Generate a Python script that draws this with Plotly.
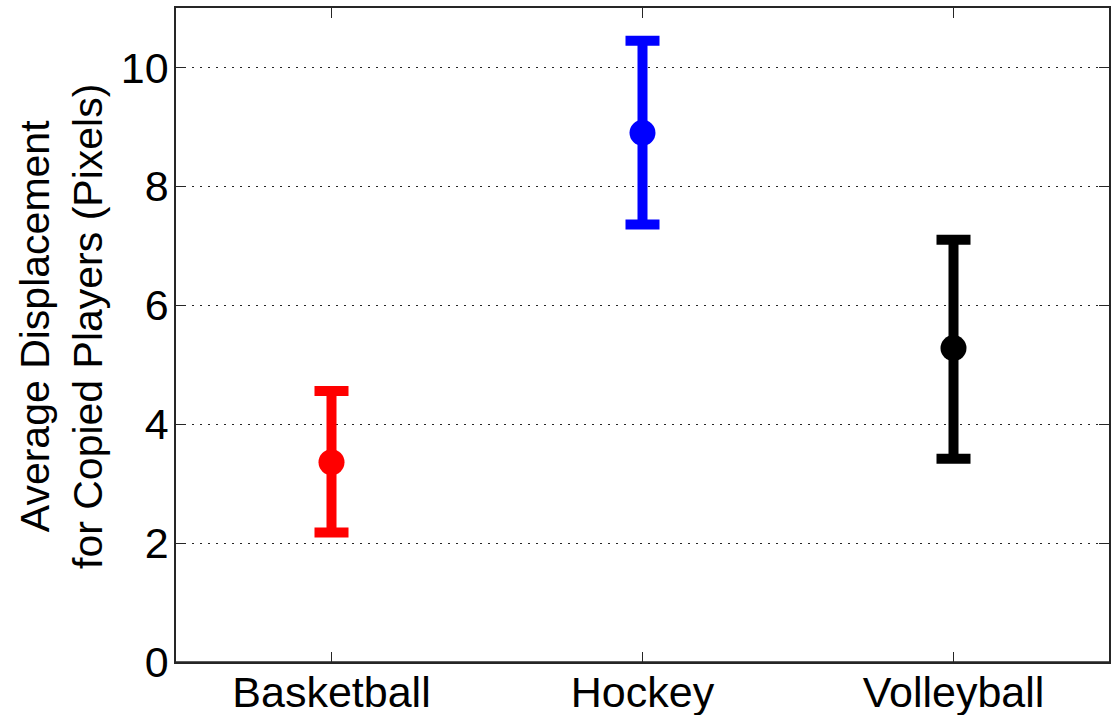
import plotly.graph_objects as go

# Average displacement per sport, with asymmetric error ranges
sports = ["Basketball", "Hockey", "Volleyball"]
means = [3.36, 8.90, 5.28]
err_plus = [1.20, 1.55, 1.82]
err_minus = [1.18, 1.54, 1.86]
colors = ["#ff0000", "#0000ff", "#000000"]
y_ticks = [0, 2, 4, 6, 8, 10]

FONT = "Liberation Sans, Arial, sans-serif"

fig = go.Figure()
for i, name in enumerate(sports):
    fig.add_trace(go.Scatter(
        x=[i + 1],
        y=[means[i]],
        mode="markers",
        marker=dict(color=colors[i], size=26, line=dict(width=0)),
        error_y=dict(
            type="data",
            symmetric=False,
            array=[err_plus[i]],
            arrayminus=[err_minus[i]],
            color=colors[i],
            thickness=10,
            width=17,
        ),
        showlegend=False,
        name=name,
    ))

axis_common = dict(
    ticks="inside",
    ticklen=10,
    tickwidth=1.3,
    tickcolor="#262626",
    showline=True,
    linecolor="#262626",
    linewidth=1.5,
    mirror="ticks",
    zeroline=False,
    automargin=False,
    tickfont=dict(size=43, family=FONT),
)

fig.update_layout(
    width=1112,
    height=715,
    margin=dict(l=176, r=3, t=8, b=53),
    paper_bgcolor="white",
    plot_bgcolor="white",
    font=dict(family=FONT, color="#000000"),
    xaxis=dict(
        range=[0.5, 3.5],
        tickvals=[1, 2, 3],
        ticktext=sports,
        showgrid=False,
        ticklabelstandoff=-8,
        **axis_common,
    ),
    yaxis=dict(
        range=[0, 11],
        tickvals=y_ticks,
        showgrid=True,
        gridcolor="#262626",
        gridwidth=1.3,
        griddash="2px,6px",
        ticklabelstandoff=-3,
        **axis_common,
    ),
    annotations=[dict(
        text="Average Displacement<br>for Copied Players (Pixels)",
        xref="paper", yref="paper",
        x=(61 - 176) / 933, y=(662 - 327) / 654,
        xanchor="center", yanchor="middle",
        textangle=-90,
        showarrow=False,
        font=dict(size=41, family=FONT, color="#000000"),
    )],
)

fig.add_shape(type="line", xref="paper", yref="y", x0=0, x1=1, y0=0, y1=0,
              line=dict(color="#262626", width=1.5))

fig.write_html("out.html")
